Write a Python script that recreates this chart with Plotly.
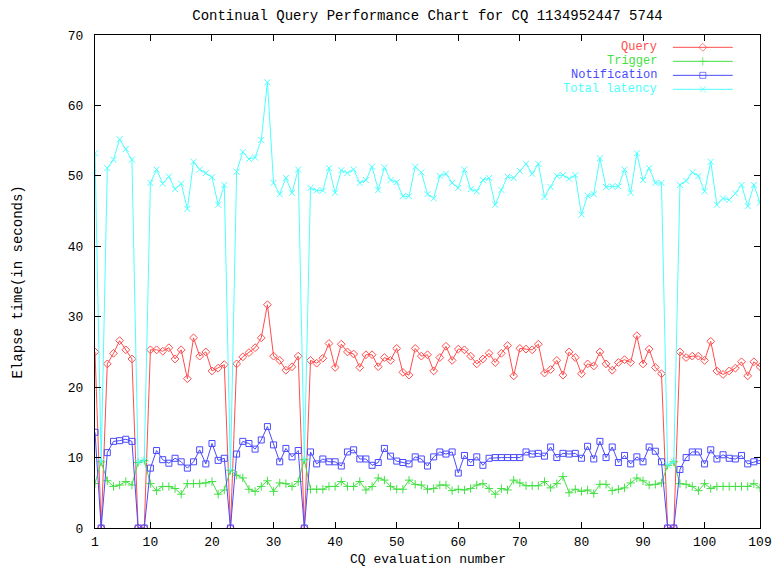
import plotly.graph_objects as go

# ---------------- data ----------------
eval_numbers = list(range(1, 110))

query = [25.0, 0, 23.3, 24.8, 26.6, 25.3, 24.0, 0, 0, 25.3,
         25.3, 25.1, 25.6, 24.0, 25.3, 21.2, 27.0, 24.4, 25.0, 22.3,
         22.7, 23.2, 0, 23.3, 24.3, 24.9, 25.6, 27.0, 31.7, 24.4,
         23.8, 22.4, 22.9, 24.4, 0, 23.8, 23.4, 24.1, 26.2, 22.8,
         26.1, 25.0, 24.7, 22.8, 24.6, 24.6, 22.9, 24.2, 23.8, 25.5,
         22.1, 21.7, 25.5, 24.4, 24.6, 22.3, 24.2, 25.8, 23.8, 25.4,
         25.3, 24.4, 23.3, 24.0, 24.8, 23.5, 24.8, 25.9, 21.6, 25.5,
         25.4, 25.3, 26.1, 22.0, 22.5, 23.8, 21.7, 25.0, 24.2, 21.9,
         23.3, 23.0, 25.0, 23.3, 22.4, 23.5, 23.9, 23.5, 27.3, 23.3,
         25.4, 22.8, 21.9, 0, 0, 25.0, 24.2, 24.4, 24.4, 23.8,
         26.5, 22.3, 21.8, 22.3, 22.7, 23.6, 21.6, 23.6, 22.9]

trigger = [6.3, 9.4, 6.7, 5.9, 6.1, 6.6, 6.1, 9.3, 9.6, 6.3,
           5.3, 5.9, 5.9, 5.6, 4.8, 6.3, 6.3, 6.3, 6.4, 6.6,
           4.8, 5.4, 8.2, 7.5, 7.1, 5.5, 5.2, 5.9, 6.7, 5.2,
           6.4, 6.3, 5.9, 6.6, 9.7, 5.5, 5.5, 5.5, 5.9, 5.9,
           6.6, 5.9, 5.9, 6.6, 5.4, 5.9, 7.1, 6.8, 5.9, 5.5,
           5.5, 6.8, 6.2, 6.1, 5.5, 5.6, 6.1, 6.1, 5.3, 5.5,
           5.4, 5.6, 6.1, 6.3, 5.6, 4.8, 5.6, 5.4, 6.8, 6.4,
           6.0, 6.0, 6.0, 6.6, 5.7, 6.3, 7.3, 5.0, 5.5, 5.2,
           5.4, 4.9, 6.2, 6.2, 5.3, 5.5, 5.7, 6.4, 7.1, 6.7,
           6.1, 6.2, 6.4, 8.9, 9.4, 6.3, 6.2, 5.9, 5.3, 6.3,
           5.6, 5.9, 5.9, 5.9, 5.9, 5.9, 5.9, 6.3, 5.7]

notification = [13.6, 0, 10.7, 12.3, 12.4, 12.6, 12.3, 0, 0, 8.5,
                11.0, 9.7, 9.2, 9.9, 9.4, 8.5, 9.4, 11.1, 9.1, 12.0,
                9.6, 9.9, 0, 10.5, 12.3, 12.0, 11.2, 12.5, 14.4, 11.8,
                9.4, 11.3, 10.1, 11.0, 0, 10.8, 9.1, 9.8, 9.4, 9.4,
                8.8, 10.8, 11.1, 9.8, 9.8, 8.9, 9.3, 11.3, 10.2, 9.5,
                9.3, 9.1, 10.1, 9.8, 8.8, 10.1, 10.8, 10.5, 10.8, 7.8,
                10.3, 9.3, 10.1, 8.9, 9.9, 10.0, 10.0, 10.0, 10.0, 10.0,
                10.8, 10.5, 10.6, 10.2, 11.5, 10.0, 10.6, 10.5, 10.6, 9.9,
                11.6, 9.8, 12.3, 10.0, 11.5, 9.3, 10.3, 9.1, 10.1, 9.4,
                11.5, 10.9, 9.4, 0, 0, 8.3, 10.0, 10.8, 10.8, 9.1,
                11.1, 9.8, 10.4, 9.9, 9.8, 10.3, 9.1, 9.4, 9.6]

total_latency = [53.2, 9.4, 51.1, 52.3, 55.2, 53.8, 52.3, 9.3, 9.6, 49.0,
                 50.9, 48.9, 49.9, 48.1, 48.9, 45.3, 52.0, 50.9, 50.4, 49.8,
                 45.9, 48.7, 8.2, 50.6, 53.4, 52.4, 52.6, 55.1, 63.3, 49.0,
                 47.4, 49.7, 47.6, 50.9, 9.7, 48.3, 47.9, 47.9, 51.1, 47.6,
                 50.8, 50.4, 50.9, 49.0, 49.4, 51.3, 48.0, 51.2, 49.4, 49.1,
                 47.1, 47.1, 51.3, 50.5, 47.4, 46.8, 50.0, 50.3, 49.0, 48.3,
                 50.9, 48.1, 47.8, 49.4, 49.7, 45.9, 48.0, 49.9, 49.7, 50.7,
                 51.7, 50.3, 51.7, 47.0, 48.4, 50.0, 50.1, 49.6, 50.1, 44.5,
                 47.2, 47.4, 52.5, 48.4, 48.5, 48.5, 50.9, 47.6, 53.2, 49.4,
                 51.1, 49.0, 49.0, 8.9, 9.4, 48.7, 49.3, 50.5, 50.0, 47.8,
                 52.0, 45.9, 46.8, 46.6, 47.5, 48.7, 45.7, 48.7, 46.2]

x_tick_vals = [1, 10, 20, 30, 40, 50, 60, 70, 80, 90, 100, 109]
y_tick_vals = [0, 10, 20, 30, 40, 50, 60, 70]

series_names = ["Query", "Trigger", "Notification", "Total latency"]
series_values = [query, trigger, notification, total_latency]
colors = ["#ff4d4d", "#44e044", "#4a4aff", "#4dffff"]
symbols = ["diamond-open", "cross-thin-open", "square-open", "x-thin-open"]

title_text = "Continual Query Performance Chart for CQ 1134952447 5744"
x_title = "CQ evaluation number"
y_title = "Elapse time(in seconds)"

FONT = "Liberation Mono"

fig = go.Figure()

for name, vals, c, s in zip(series_names, series_values, colors, symbols):
    fig.add_trace(go.Scatter(
        x=eval_numbers, y=vals, mode="lines+markers", name=name,
        line=dict(color=c, width=1),
        marker=dict(symbol=s, size=6, color=c, line=dict(color=c, width=1)),
        showlegend=False,
    ))

# custom gnuplot-style key (text left, sample right)
key_top = 0.975
key_step = 0.0284
for k, (name, c, s) in enumerate(zip(series_names, colors, symbols)):
    yk = key_top - k * key_step
    fig.add_trace(go.Scatter(
        x=[0.869, 0.914, 0.959], y=[yk, yk, yk], xaxis="x2", yaxis="y2",
        mode="lines+markers", line=dict(color=c, width=1),
        marker=dict(symbol=s, size=[0, 6, 0], color=c, line=dict(color=c, width=1)),
        showlegend=False, hoverinfo="skip",
    ))
    fig.add_annotation(x=0.848, y=yk, xref="paper", yref="paper", text=name,
                       showarrow=False, xanchor="right", yanchor="middle",
                       font=dict(family=FONT, size=12, color=c))

axis_common = dict(showline=True, linecolor="black", linewidth=1, mirror="ticks",
                   ticks="inside", ticklen=6, tickcolor="black", tickwidth=1,
                   showgrid=False, zeroline=False, ticklabeloverflow="allow",
                   automargin=False,
                   tickfont=dict(family=FONT, size=13, color="black"))

fig.update_layout(
    width=772, height=567,
    margin=dict(l=95, r=12, t=35, b=39, autoexpand=False),
    paper_bgcolor="white", plot_bgcolor="white",
    title=dict(text=title_text, x=0.5, xref="paper", y=1 - 15 / 567,
               yref="container", xanchor="center", yanchor="middle",
               font=dict(family=FONT, size=14, color="black")),
    xaxis=dict(range=[1, 109], tickvals=x_tick_vals, ticktext=[str(v) for v in x_tick_vals],
               ticklabelstandoff=1, **axis_common),
    yaxis=dict(range=[0, 70], tickvals=y_tick_vals, ticktext=[str(v) for v in y_tick_vals],
               ticklabelstandoff=8, **axis_common),
    xaxis2=dict(range=[0, 1], overlaying="x", visible=False),
    yaxis2=dict(range=[0, 1], overlaying="y", visible=False),
    showlegend=False,
)

fig.add_annotation(x=0.5, y=-0.0629, xref="paper", yref="paper", text=x_title,
                   showarrow=False, xanchor="center", yanchor="middle",
                   font=dict(family=FONT, size=13, color="black"))
fig.add_annotation(x=-0.1158, y=0.5, xref="paper", yref="paper", text=y_title,
                   showarrow=False, xanchor="center", yanchor="middle", textangle=-90,
                   font=dict(family=FONT, size=14, color="black"))

fig.write_html("out.html", config={"displayModeBar": False},
               post_script="document.body.style.margin='0';")
